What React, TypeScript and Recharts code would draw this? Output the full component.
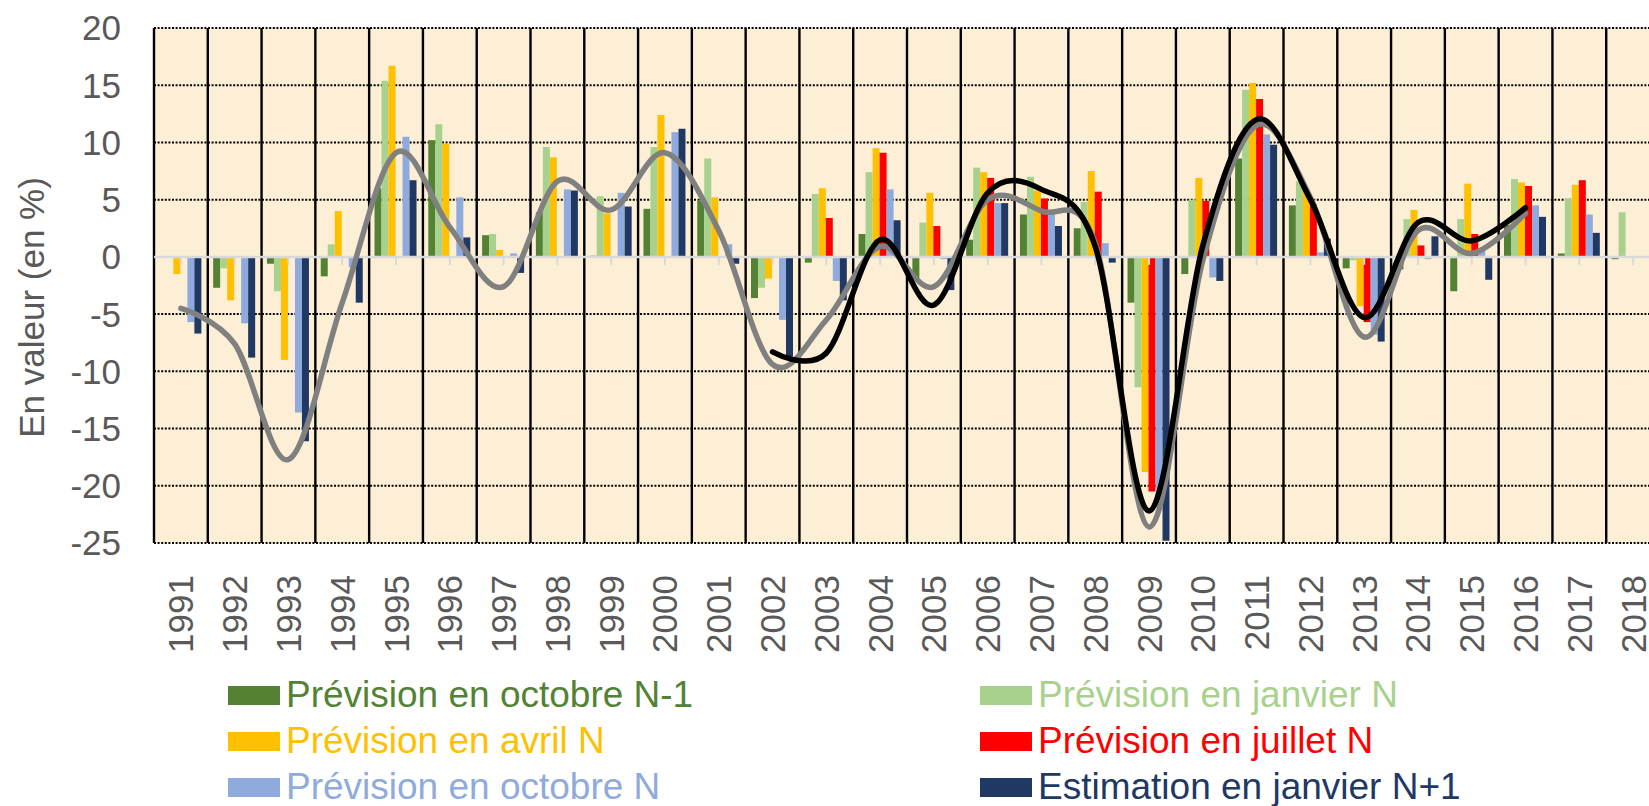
import React from "react";
import {
  ComposedChart,
  Bar,
  Line,
  XAxis,
  YAxis,
  CartesianGrid,
  ReferenceLine,
} from "recharts";

const years = [
  "1991", "1992", "1993", "1994", "1995", "1996", "1997", "1998", "1999", "2000",
  "2001", "2002", "2003", "2004", "2005", "2006", "2007", "2008", "2009", "2010",
  "2011", "2012", "2013", "2014", "2015", "2016", "2017", "2018",
];

const octobreN1 = [
  0, -2.7, -0.6, -1.7, 6.0, 10.2, 1.9, 3.9, 0.1, 4.2,
  4.9, -3.6, -0.5, 2.0, -1.9, 1.5, 3.7, 2.5, -4.0, -1.5,
  8.6, 4.5, -1.0, -1.1, -3.0, 2.8, 0.3, -0.2,
];
const janvierN = [
  0, -1.0, -3.0, 1.1, 15.4, 11.6, 2.0, 9.6, 5.3, 9.6,
  8.6, -2.7, 5.5, 7.4, 3.0, 7.8, 7.0, 4.8, -11.4, 5.0,
  14.6, 6.6, -0.3, 3.3, 3.3, 6.8, 5.1, 3.9,
];
const avrilN = [
  -1.5, -3.8, -9.0, 4.0, 16.7, 9.9, 0.6, 8.7, 3.8, 12.4,
  5.2, -1.9, 6.0, 9.5, 5.6, 7.4, 5.8, 7.5, -18.8, 6.9,
  15.2, 5.8, -4.3, 4.1, 6.4, 6.5, 6.3, null,
];
const juilletN = [
  null, null, null, null, null, null, null, null, null, null,
  null, null, 3.4, 9.1, 2.7, 6.9, 5.1, 5.7, -20.5, 4.9,
  13.8, 4.6, -5.7, 1.0, 2.0, 6.2, 6.7, null,
];
const octobreN = [
  -5.7, -5.8, -13.6, -0.9, 10.5, 5.2, 0.3, 5.9, 5.6, 10.9,
  1.1, -5.5, -2.1, 5.9, -0.2, 4.7, 4.0, 1.2, -21.7, -1.8,
  10.7, 0.4, -6.8, -0.2, 0.6, 4.5, 3.7, null,
];
const janvierN1 = [
  -6.7, -8.8, -16.1, -4.0, 6.7, 1.7, -1.4, 5.8, 4.4, 11.2,
  -0.6, -8.7, -3.8, 3.2, -2.9, 4.7, 2.7, -0.5, -24.8, -2.1,
  9.8, 1.6, -7.4, 1.8, -2.0, 3.5, 2.1, null,
];

// courbes lissées
const courbeGrise = [
  -4.5, -7.6, -17.7, -4.0, 9.1, 2.6, -2.6, 6.6, 4.1, 9.1,
  2.3, -9.4, -5.5, 0.9, -2.6, 5.0, 4.0, 1.2, -23.6, -0.3,
  11.5, 5.2, -7.0, 2.3, 0.3, 3.8, null, null,
];
const courbeNoire = [
  null, null, null, null, null, null, null, null, null, null,
  null, -8.3, -8.4, 1.5, -4.2, 5.6, 5.9, 0.9, -22.2, 1.0,
  12.0, 5.0, -5.3, 3.0, 1.4, 4.3, null, null,
];

const yTicks = [-25, -20, -15, -10, -5, 0, 5, 10, 15, 20];

const series = [
  { key: "octobreN1", name: "Prévision en octobre N-1", color: "#548235", values: octobreN1 },
  { key: "janvierN", name: "Prévision en janvier N", color: "#A9D18E", values: janvierN },
  { key: "avrilN", name: "Prévision en avril N", color: "#FFC000", values: avrilN },
  { key: "juilletN", name: "Prévision en juillet N", color: "#FF0000", values: juilletN },
  { key: "octobreN", name: "Prévision en octobre N", color: "#8FAADC", values: octobreN },
  { key: "janvierN1", name: "Estimation en janvier N+1", color: "#203864", values: janvierN1 },
];

const data = years.map((year, i) => {
  const row: Record<string, any> = { year, grise: courbeGrise[i], noire: courbeNoire[i] };
  series.forEach((s) => (row[s.key] = s.values[i]));
  return row;
});

const FONT = "'Liberation Sans', Arial, sans-serif";
const TEXT = "#595959";

// lissage type Excel (Catmull-Rom)
const excelSmooth = (context: any) => {
  let x0 = NaN, y0 = NaN, x1 = NaN, y1 = NaN, x2 = NaN, y2 = NaN;
  let pt = 0;
  const k = 1 / 6;
  const seg = (x: number, y: number) =>
    context.bezierCurveTo(
      x1 + k * (x2 - x0),
      y1 + k * (y2 - y0),
      x2 + k * (x1 - x),
      y2 + k * (y1 - y),
      x2,
      y2
    );
  return {
    areaStart() {},
    areaEnd() {},
    lineStart() {
      x0 = x1 = x2 = y0 = y1 = y2 = NaN;
      pt = 0;
    },
    lineEnd() {
      if (pt === 2) context.lineTo(x2, y2);
      else if (pt === 3) seg(x1, y1);
    },
    point(x: number, y: number) {
      x = +x;
      y = +y;
      if (pt === 0) {
        pt = 1;
        context.moveTo(x, y);
      } else if (pt === 1) {
        pt = 2;
        x1 = x;
        y1 = y;
      } else {
        pt = 3;
        seg(x, y);
      }
      x0 = x1; x1 = x2; x2 = x;
      y0 = y1; y1 = y2; y2 = y;
    },
  };
};

const YearTick = ({ x, y, payload }: any) => (
  <text
    x={x}
    y={y}
    transform={`rotate(-90, ${x}, ${y})`}
    textAnchor="end"
    dominantBaseline="central"
    fill={TEXT}
    fontSize={35}
    fontFamily={FONT}
  >
    {payload.value}
  </text>
);

const AxisTitle = ({ viewBox }: any) => {
  const vx = viewBox?.x ?? 0;
  const vy = viewBox?.y ?? 28;
  const vh = viewBox?.height ?? 515;
  const cx = vx + 31;
  const cy = vy + vh / 2 + 22;
  return (
    <text
      x={cx}
      y={cy}
      transform={`rotate(-90, ${cx}, ${cy})`}
      textAnchor="middle"
      dominantBaseline="central"
      fill={TEXT}
      fontSize={35}
      fontFamily={FONT}
    >
      En valeur (en %)
    </text>
  );
};

const Legende = () => (
  <>
    {series.map((s, i) => (
      <div
        key={s.key}
        style={{
          position: "absolute",
          left: i % 2 === 0 ? 228 : 980,
          top: 672 + Math.floor(i / 2) * 46,
          height: 46,
          display: "flex",
          alignItems: "center",
          fontFamily: FONT,
          fontSize: 37,
          color: s.color,
          whiteSpace: "nowrap",
        }}
      >
        <span style={{ width: 52, height: 19, background: s.color, marginRight: 6 }} />
        {s.name}
      </div>
    ))}
  </>
);

export default function App() {
  return (
    <div
      style={{
        position: "absolute",
        left: 0,
        top: 0,
        width: 1649,
        height: 806,
        overflow: "hidden",
        background: "#ffffff",
      }}
    >
      <ComposedChart
        width={1662}
        height={670}
        data={data}
        margin={{ top: 28, right: 2, bottom: 0, left: 0 }}
        barCategoryGap="10%"
        barGap={0}
      >
        <CartesianGrid
          horizontal={false}
          vertical
          fill="#FCEFD6"
          stroke="#000000"
          strokeWidth={2.4}
          verticalCoordinatesGenerator={({ offset }: any) =>
            years.concat([""]).map((_, i) => offset.left + (i * offset.width) / years.length)
          }
        />
        <CartesianGrid
          vertical={false}
          horizontal
          stroke="#000000"
          strokeWidth={2}
          strokeDasharray="2 1.6"
        />
        <XAxis
          dataKey="year"
          interval={0}
          height={127}
          axisLine={false}
          tickLine={false}
          tickSize={0}
          tickMargin={32}
          tick={<YearTick />}
        />
        <YAxis
          type="number"
          domain={[-25, 20]}
          ticks={yTicks}
          width={154}
          axisLine={false}
          tickLine={false}
          tickSize={0}
          tickMargin={33}
          tick={{ fill: TEXT, fontSize: 35, fontFamily: FONT }}
          label={<AxisTitle />}
        />
        {series.map((s) => (
          <Bar key={s.key} dataKey={s.key} name={s.name} fill={s.color} isAnimationActive={false} />
        ))}
        <ReferenceLine y={0} stroke="#D9D9D9" strokeWidth={2.5} />
        {years.map((yr) => (
          <ReferenceLine
            key={yr}
            segment={[
              { x: yr, y: 0 },
              { x: yr, y: -0.7 },
            ]}
            stroke="#D9D9D9"
            strokeWidth={2}
          />
        ))}
        <Line
          dataKey="grise"
          type={excelSmooth as any}
          stroke="#808080"
          strokeWidth={5.5}
          dot={false}
          activeDot={false}
          isAnimationActive={false}
          strokeLinecap="round"
        />
        <Line
          dataKey="noire"
          type={excelSmooth as any}
          stroke="#000000"
          strokeWidth={5.5}
          dot={false}
          activeDot={false}
          isAnimationActive={false}
          strokeLinecap="round"
        />
      </ComposedChart>
      <Legende />
    </div>
  );
}
